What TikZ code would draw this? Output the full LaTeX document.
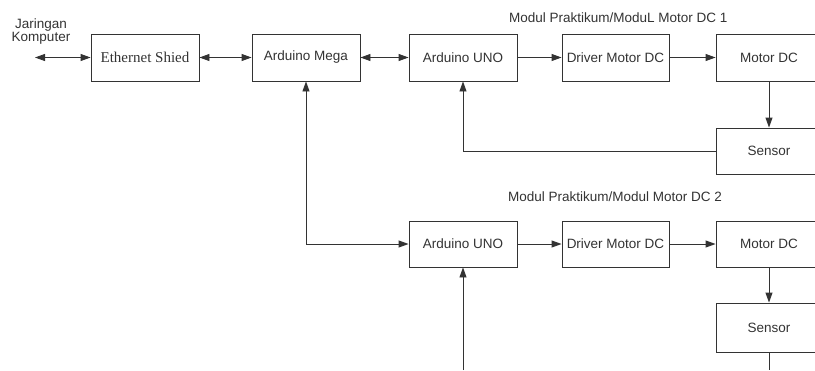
\documentclass[tikz,border=0pt]{standalone}
\usepackage{fontspec}
\setmainfont{Liberation Serif}
\setsansfont{Liberation Sans}
\usetikzlibrary{arrows.meta}

\begin{document}
\begin{tikzpicture}[x=1pt, y=-1pt,
  blok/.style={draw=black!80, line width=0.9pt, minimum width=108pt, minimum height=47pt, inner sep=1pt,
    font=\sffamily\fontsize{13.5}{16}\selectfont, text=black!80},
  garis/.style={draw=black!80, line width=0.9pt},
  arr/.style={garis, -{Triangle[length=10pt, width=7pt]}},
  barr/.style={garis, {Triangle[length=10pt, width=7pt]}-{Triangle[length=10pt, width=7pt]}},
  judul/.style={font=\sffamily\fontsize{13.5}{16}\selectfont, text=black!80, inner sep=0pt}]
\useasboundingbox (0,0) rectangle (815,370);
\clip (0,0) rectangle (815,370);
% baris atas
\node[blok, font=\rmfamily\fontsize{15}{18}\selectfont] (eth) at (145,57.5) {Ethernet Shied};
\node[blok] (mega) at (306,57.5) {Arduino Mega};
\node[blok] (uno1) at (463,57.5) {Arduino UNO};
\node[blok, minimum width=107pt] (drv1) at (615.5,57.5) {Driver Motor DC};
\node[blok, minimum width=106pt] (mot1) at (769,57.5) {Motor DC};
\node[blok, minimum width=106pt, minimum height=46pt] (sen1) at (769,151) {Sensor};
% baris bawah
\node[blok, minimum height=46pt] (uno2) at (463,244) {Arduino UNO};
\node[blok, minimum width=107pt, minimum height=46pt] (drv2) at (615.5,244) {Driver Motor DC};
\node[blok, minimum width=106pt, minimum height=46pt] (mot2) at (769,244) {Motor DC};
\node[blok, minimum width=106pt, minimum height=49pt] (sen2) at (769,327.5) {Sensor};
% teks
\node[judul, align=center, font=\sffamily\fontsize{13.5}{13}\selectfont] (jar) at (41,32) {Jaringan\\Komputer};
\node[judul, anchor=base west] (jud1) at (509,22) {Modul Praktikum/ModuL Motor DC 1};
\node[judul, anchor=base west] (jud2) at (508,201) {Modul Praktikum/Modul Motor DC 2};
% panah
\coordinate (net) at (35,57.5);
\coordinate (bawah1) at (463,370);
\coordinate (bawah2) at (769,370);
\draw[barr] (net) -- (eth);
\draw[barr] (eth) -- (mega);
\draw[barr] (mega) -- (uno1);
\foreach \a/\b in {uno1/drv1,drv1/mot1,mot1/sen1,uno2/drv2,drv2/mot2,mot2/sen2} \draw[arr] (\a) -- (\b);
\draw[arr] (sen1.west) -| (uno1.south);
\draw[barr] (mega.south) |- (uno2.west);
\draw[arr] (bawah1) -- (uno2.south);
\draw[garis] (sen2.south) -- (bawah2);
\end{tikzpicture}
\end{document}
